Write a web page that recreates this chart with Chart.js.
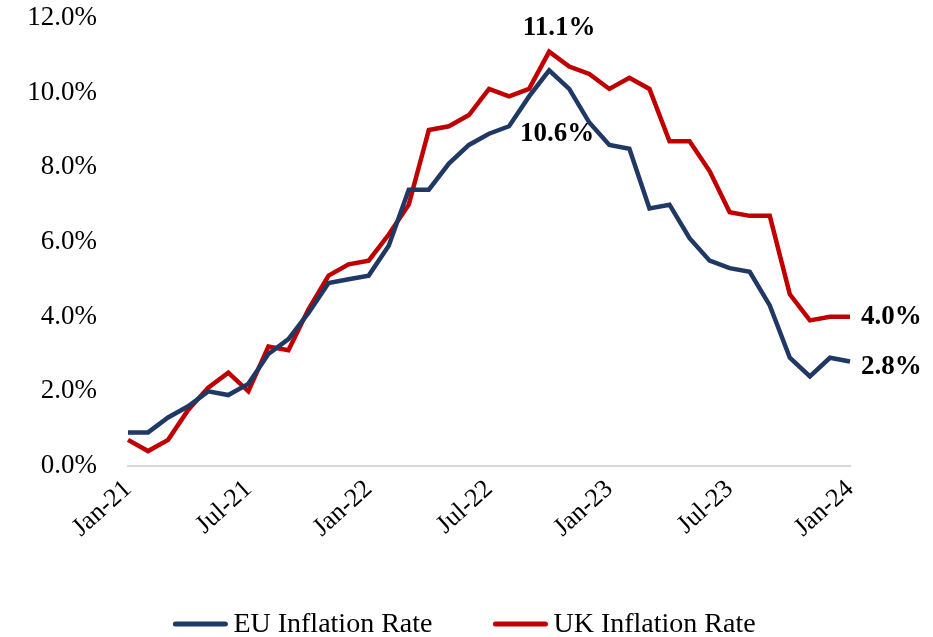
<!DOCTYPE html>
<html><head><meta charset="utf-8">
<script src="https://cdn.jsdelivr.net/npm/chart.js@4.4.0/dist/chart.umd.min.js"></script>
<style>html,body{margin:0;padding:0;background:#fff}</style>
</head><body>
<canvas id="c" width="933" height="637"></canvas>
<script>
const months = ["Jan-21","Feb-21","Mar-21","Apr-21","May-21","Jun-21","Jul-21","Aug-21","Sep-21","Oct-21","Nov-21","Dec-21",
"Jan-22","Feb-22","Mar-22","Apr-22","May-22","Jun-22","Jul-22","Aug-22","Sep-22","Oct-22","Nov-22","Dec-22",
"Jan-23","Feb-23","Mar-23","Apr-23","May-23","Jun-23","Jul-23","Aug-23","Sep-23","Oct-23","Nov-23","Dec-23","Jan-24"];
const euRate = [0.9,0.9,1.3,1.6,2.0,1.9,2.2,3.0,3.4,4.1,4.9,5.0,
5.1,5.9,7.4,7.4,8.1,8.6,8.9,9.1,9.9,10.6,10.1,9.2,
8.6,8.5,6.9,7.0,6.1,5.5,5.3,5.2,4.3,2.9,2.4,2.9,2.8];
const ukRate = [0.7,0.4,0.7,1.5,2.1,2.5,2.0,3.2,3.1,4.2,5.1,5.4,
5.5,6.2,7.0,9.0,9.1,9.4,10.1,9.9,10.1,11.1,10.7,10.5,
10.1,10.4,10.1,8.7,8.7,7.9,6.8,6.7,6.7,4.6,3.9,4.0,4.0];
const seriesNames = ["EU Inflation Rate","UK Inflation Rate"];
const yMin = 0, yMax = 12, yStep = 2;
const labelEvery = 6;
// which points carry a value label
const callouts = [
  {series:1, index:21, pos:'above'},
  {series:0, index:21, pos:'below'},
  {series:1, index:36, pos:'right'},
  {series:0, index:36, pos:'right'}
];

const FONT = '"Liberation Serif", "Times New Roman", serif';
const colors = ['#203864', '#c00000'];

const calloutPlugin = {
  id: 'callouts',
  afterDatasetsDraw(chart) {
    const ctx = chart.ctx;
    ctx.save();
    ctx.font = 'bold 27px ' + FONT;
    ctx.fillStyle = '#000';
    callouts.forEach(c => {
      const v = chart.data.datasets[c.series].data[c.index];
      const x = chart.scales.x.getPixelForValue(c.index);
      const y = chart.scales.y.getPixelForValue(v);
      const txt = v.toFixed(1) + '%';
      ctx.textBaseline = 'middle';
      if (c.pos === 'above') { ctx.textAlign = 'center'; ctx.fillText(txt, x + 10, y - 24); }
      else if (c.pos === 'below') { ctx.textAlign = 'center'; ctx.fillText(txt, x + 8, y + 64); }
      else { ctx.textAlign = 'left'; ctx.fillText(txt, x + 11, y + (c.series === 0 ? 6 : 0)); }
    });
    ctx.restore();
  }
};

const legendPlugin = {
  id: 'customLegend',
  afterDraw(chart) {
    const ctx = chart.ctx;
    ctx.save();
    ctx.font = '28px ' + FONT;
    const lineW = 56, gapText = 5, gapItem = 60;
    const items = chart.data.datasets.map(d => ({text: d.label, color: d.borderColor, w: ctx.measureText(d.label).width}));
    let total = 0;
    items.forEach((it, i) => { total += lineW + gapText + it.w + (i ? gapItem : 0); });
    let x = 464 - total / 2;
    const y = 624;
    items.forEach((it, i) => {
      if (i) x += gapItem;
      ctx.strokeStyle = it.color; ctx.lineWidth = 5; ctx.lineCap = 'round';
      ctx.beginPath(); ctx.moveTo(x + 3, y); ctx.lineTo(x + lineW - 3, y); ctx.stroke();
      x += lineW + gapText;
      ctx.fillStyle = '#000'; ctx.textAlign = 'left'; ctx.textBaseline = 'middle';
      ctx.fillText(it.text, x, y + 1);
      x += it.w;
    });
    ctx.restore();
  }
};

new Chart(document.getElementById('c'), {
  type: 'line',
  data: {
    labels: months,
    datasets: [
      {label: seriesNames[0], data: euRate, borderColor: colors[0], backgroundColor: colors[0], borderWidth: 4.5, pointRadius: 0, tension: 0},
      {label: seriesNames[1], data: ukRate, borderColor: colors[1], backgroundColor: colors[1], borderWidth: 4.5, pointRadius: 0, tension: 0}
    ]
  },
  options: {
    responsive: false,
    animation: false,
    layout: {padding: {top: 18, right: 83, bottom: 45, left: 0}},
    plugins: {legend: {display: false}, tooltip: {enabled: false}},
    scales: {
      x: {
        grid: {display: false, drawTicks: false},
        border: {display: true, color: '#d9d9d9', width: 2},
        afterFit(s) { s.height = 126; s.paddingLeft = 0; s.paddingRight = 0; },
        ticks: {
          autoSkip: false, minRotation: 42, maxRotation: 42, padding: 8,
          color: '#000', font: {family: FONT, size: 26},
          callback: (v, i) => (i % labelEvery === 0 ? months[i] : null)
        }
      },
      y: {
        min: yMin, max: yMax,
        grid: {display: false, drawTicks: false},
        border: {display: false},
        afterFit(s) { s.width = 128; s.paddingTop = 0; s.paddingBottom = 0; },
        ticks: {
          stepSize: yStep, padding: 31, color: '#000', font: {family: FONT, size: 27},
          callback: v => v.toFixed(1) + '%'
        }
      }
    }
  },
  plugins: [calloutPlugin, legendPlugin]
});
</script>
</body></html>
